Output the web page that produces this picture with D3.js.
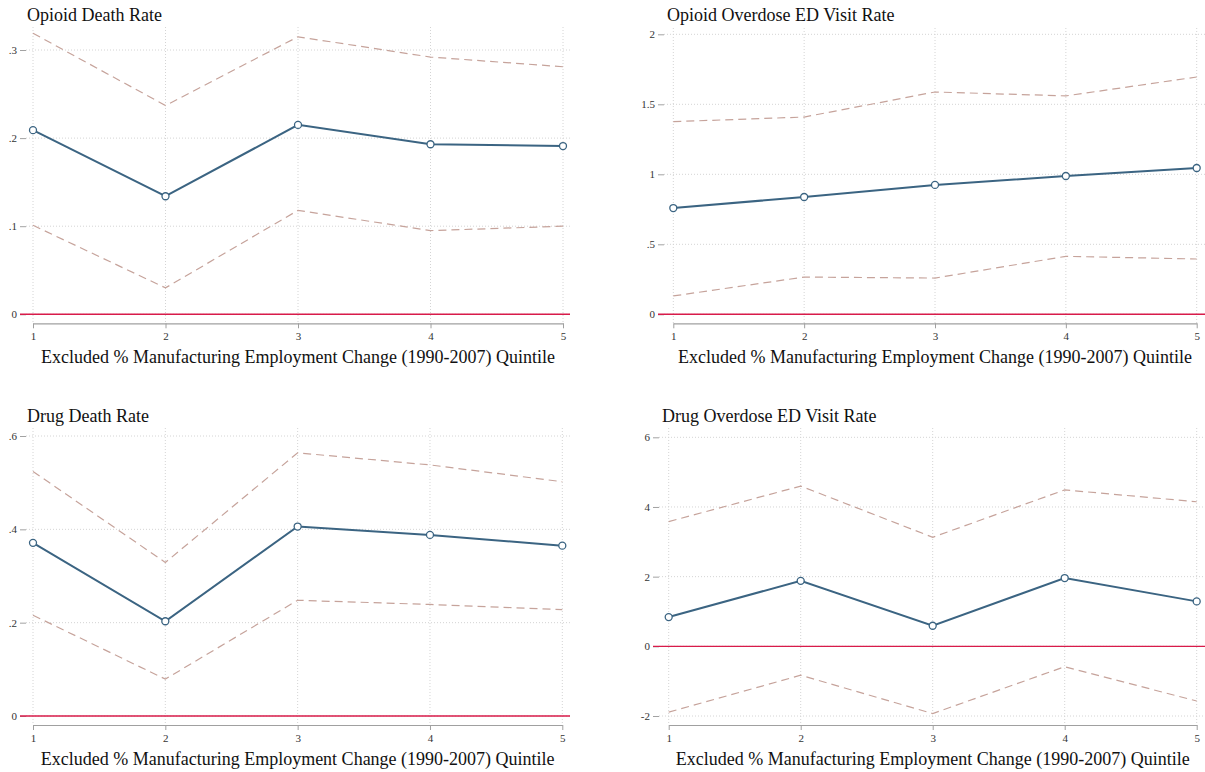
<!DOCTYPE html>
<html><head><meta charset="utf-8">
<script src="https://cdn.jsdelivr.net/npm/d3@7"></script>
<style>
html,body{margin:0;padding:0;background:#fff;}
svg{display:block;}
svg text{font-family:"Liberation Serif","Times New Roman",serif;}
</style></head>
<body>
<svg id="chart" width="1205" height="772"></svg>
<script>
// ---- data ----
const quintiles = [1, 2, 3, 4, 5];
const xAxisTitle = "Excluded % Manufacturing Employment Change (1990-2007) Quintile";

const opioidDeathTitle = "Opioid Death Rate";
const opioidDeathEst = [0.209, 0.134, 0.215, 0.193, 0.191];
const opioidDeathLo  = [0.101, 0.030, 0.118, 0.095, 0.100];
const opioidDeathHi  = [0.319, 0.237, 0.315, 0.292, 0.281];
const opioidDeathTicks = [0, 0.1, 0.2, 0.3];
const opioidDeathTickLabels = ["0", ".1", ".2", ".3"];

const opioidEdTitle = "Opioid Overdose ED Visit Rate";
const opioidEdEst = [0.759, 0.838, 0.924, 0.988, 1.045];
const opioidEdLo  = [0.131, 0.266, 0.259, 0.414, 0.395];
const opioidEdHi  = [1.376, 1.409, 1.588, 1.560, 1.695];
const opioidEdTicks = [0, 0.5, 1, 1.5, 2];
const opioidEdTickLabels = ["0", ".5", "1", "1.5", "2"];

const drugDeathTitle = "Drug Death Rate";
const drugDeathEst = [0.371, 0.203, 0.406, 0.388, 0.365];
const drugDeathLo  = [0.216, 0.079, 0.248, 0.239, 0.228];
const drugDeathHi  = [0.524, 0.329, 0.564, 0.538, 0.502];
const drugDeathTicks = [0, 0.2, 0.4, 0.6];
const drugDeathTickLabels = ["0", ".2", ".4", ".6"];

const drugEdTitle = "Drug Overdose ED Visit Rate";
const drugEdEst = [0.84, 1.88, 0.59, 1.96, 1.29];
const drugEdLo  = [-1.89, -0.83, -1.93, -0.585, -1.57];
const drugEdHi  = [3.58, 4.60, 3.13, 4.49, 4.15];
const drugEdTicks = [-2, 0, 2, 4, 6];
const drugEdTickLabels = ["-2", "0", "2", "4", "6"];

// ---- layout (pixels) ----
const panels = [
  {title: opioidDeathTitle, est: opioidDeathEst, lo: opioidDeathLo, hi: opioidDeathHi,
   ticks: opioidDeathTicks, labels: opioidDeathTickLabels,
   yDom: [0, 0.3], yRange: [314.3, 50], xRange: [33, 563],
   left: 26, right: 570, top: 27, axisY: 323.3, titleX: 27, titleY: 21, xTitleY: 363},
  {title: opioidEdTitle, est: opioidEdEst, lo: opioidEdLo, hi: opioidEdHi,
   ticks: opioidEdTicks, labels: opioidEdTickLabels,
   yDom: [0, 2], yRange: [314.3, 34.3], xRange: [673.3, 1196.7],
   left: 664, right: 1205, top: 28, axisY: 323.3, titleX: 667, titleY: 21, xTitleY: 363},
  {title: drugDeathTitle, est: drugDeathEst, lo: drugDeathLo, hi: drugDeathHi,
   ticks: drugDeathTicks, labels: drugDeathTickLabels,
   yDom: [0, 0.6], yRange: [716, 436], xRange: [33, 562.3],
   left: 26, right: 570, top: 428, axisY: 725, titleX: 27, titleY: 422, xTitleY: 765},
  {title: drugEdTitle, est: drugEdEst, lo: drugEdLo, hi: drugEdHi,
   ticks: drugEdTicks, labels: drugEdTickLabels,
   yDom: [-2, 6], yRange: [716, 437.3], xRange: [668.7, 1196.7],
   left: 659, right: 1205, top: 428, axisY: 725, titleX: 662, titleY: 422, xTitleY: 765}
];

const FONT = "'Liberation Serif', 'Times New Roman', serif";
const svg = d3.select("#chart");

panels.forEach(p => {
  const g = svg.append("g");
  const x = d3.scaleLinear().domain([1, 5]).range(p.xRange);
  const y = d3.scaleLinear().domain(p.yDom).range(p.yRange);

  // horizontal gridlines
  g.selectAll("line.hgrid").data(p.ticks).join("line")
    .attr("class", "hgrid")
    .attr("x1", p.left).attr("x2", p.right)
    .attr("y1", d => y(d)).attr("y2", d => y(d))
    .attr("stroke", "#d4d4d4").attr("stroke-width", 1)
    .attr("stroke-dasharray", "1,2");

  // vertical gridlines
  g.selectAll("line.vgrid").data(quintiles).join("line")
    .attr("class", "vgrid")
    .attr("x1", d => x(d)).attr("x2", d => x(d))
    .attr("y1", p.top).attr("y2", p.axisY)
    .attr("stroke", "#d4d4d4").attr("stroke-width", 1)
    .attr("stroke-dasharray", "1,2");

  // y axis (ticks only)
  const yAxis = d3.axisLeft(y).tickValues(p.ticks)
    .tickFormat((d, i) => p.labels[i]).tickSizeInner(6).tickSizeOuter(0).tickPadding(3);
  const ya = g.append("g").attr("transform", `translate(${p.left},0)`).call(yAxis);
  ya.attr("font-family", null).attr("font-size", null);
  ya.select(".domain").remove();
  ya.selectAll(".tick line").attr("stroke", "#8a8a8a").attr("stroke-width", 0.8);
  ya.selectAll(".tick text").style("font-family", FONT).style("font-size", "11px").attr("fill", "#333");

  // x axis
  const xAxis = d3.axisBottom(x).tickValues(quintiles).tickFormat(d3.format("d"))
    .tickSizeInner(5).tickSizeOuter(0).tickPadding(4);
  const xa = g.append("g").attr("transform", `translate(0,${p.axisY})`).call(xAxis);
  xa.attr("font-family", null).attr("font-size", null);
  xa.select(".domain").attr("stroke", "#a0a0a0").attr("stroke-width", 1.2);
  xa.selectAll(".tick line").attr("stroke", "#a0a0a0").attr("stroke-width", 1);
  xa.selectAll(".tick text").style("font-family", FONT).style("font-size", "11px").attr("fill", "#333");

  // zero reference line
  g.append("line")
    .attr("x1", p.left - 6).attr("x2", p.right)
    .attr("y1", y(0)).attr("y2", y(0))
    .attr("stroke", "#d81b4a").attr("stroke-width", 1.4);

  const line = d3.line().x((d, i) => x(quintiles[i])).y(d => y(d));

  // confidence bounds
  [p.hi, p.lo].forEach(arr => {
    g.append("path").datum(arr).attr("d", line)
      .attr("fill", "none").attr("stroke", "#c6a39b").attr("stroke-width", 1.2)
      .attr("stroke-dasharray", "8,5");
  });

  // estimate line
  g.append("path").datum(p.est).attr("d", line)
    .attr("fill", "none").attr("stroke", "#3b6482").attr("stroke-width", 2);

  g.selectAll("circle").data(p.est).join("circle")
    .attr("cx", (d, i) => x(quintiles[i])).attr("cy", d => y(d)).attr("r", 3.5)
    .attr("fill", "#fff").attr("stroke", "#3b6482").attr("stroke-width", 1.3);

  // titles
  g.append("text").attr("x", p.titleX).attr("y", p.titleY)
    .style("font-family", FONT).style("font-size", "18px").attr("fill", "#111")
    .text(p.title);

  g.append("text").attr("x", (p.xRange[0] + p.xRange[1]) / 2).attr("y", p.xTitleY)
    .attr("text-anchor", "middle")
    .style("font-family", FONT).style("font-size", "18px").attr("fill", "#111")
    .text(xAxisTitle);
});
</script>
</body></html>
